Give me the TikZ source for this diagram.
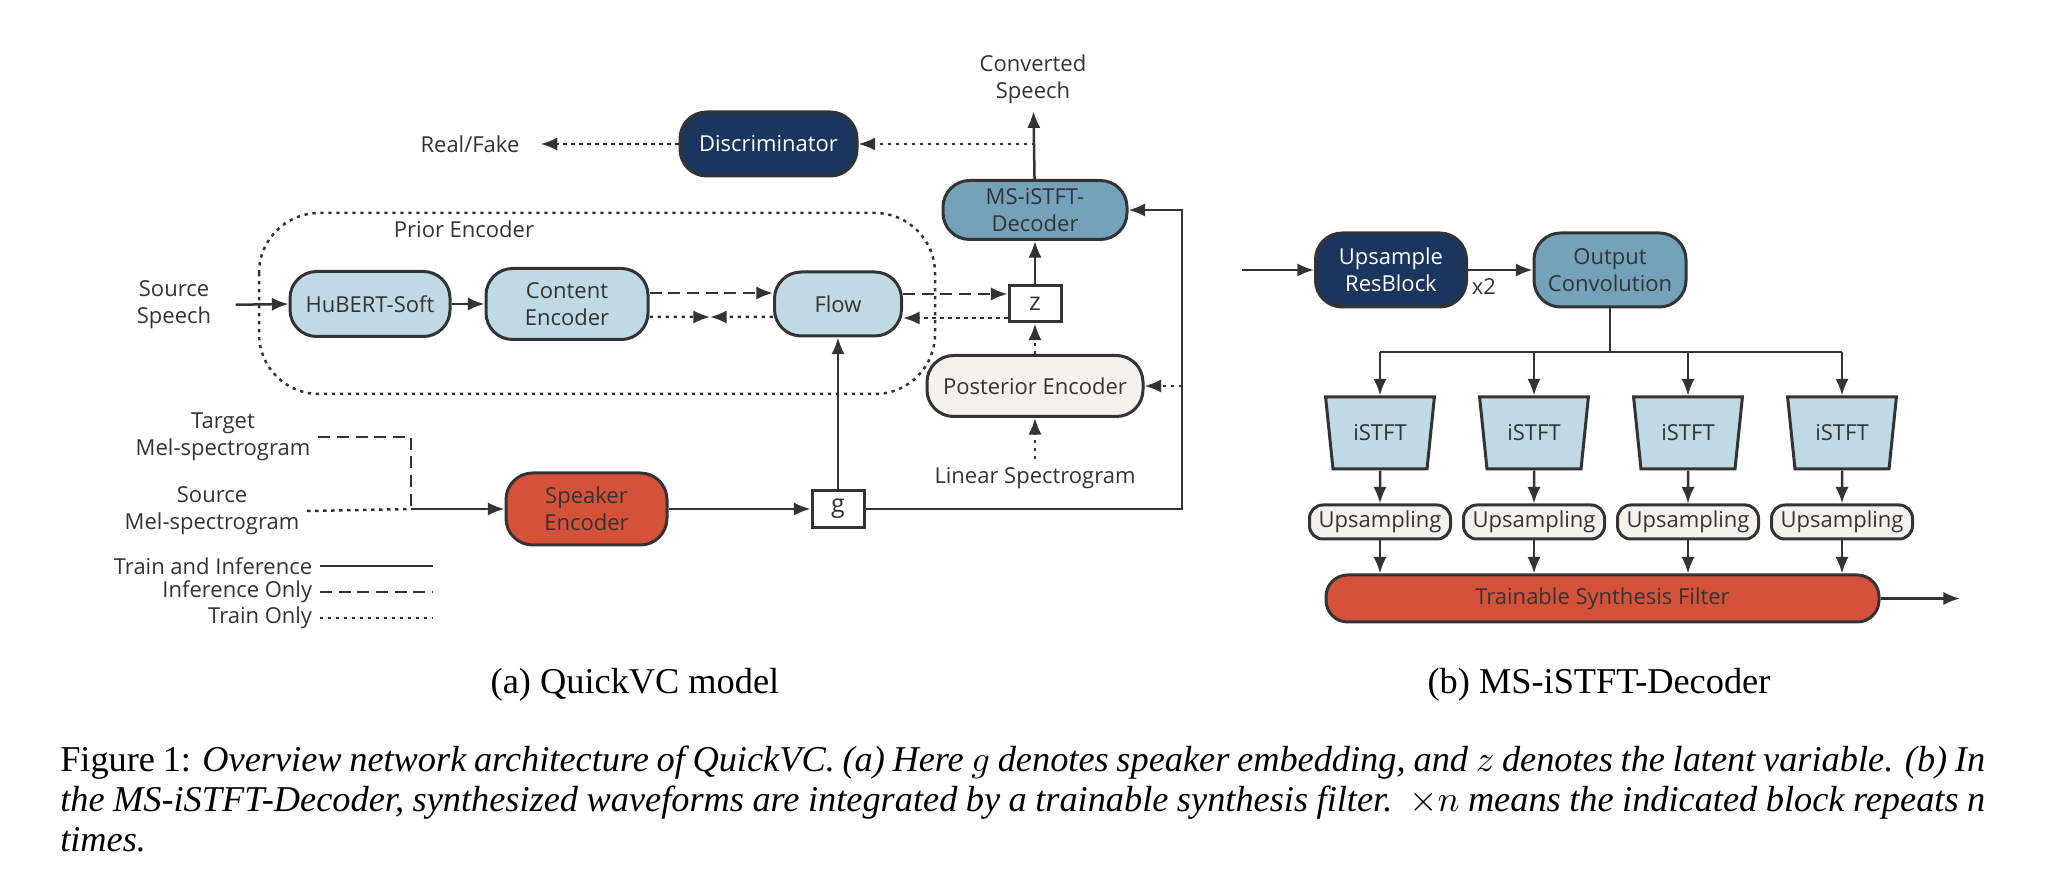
\documentclass[tikz,border=0pt]{standalone}
\usepackage{fontspec}
\setmainfont{Liberation Serif}
\newfontfamily\diagfont{Open Sans}
\usetikzlibrary{arrows.meta,shapes.geometric,calc}
\definecolor{darkline}{RGB}{51,51,51}
\definecolor{navy}{RGB}{26,54,94}
\definecolor{steel}{RGB}{116,162,187}
\definecolor{paleblue}{RGB}{192,218,229}
\definecolor{cream}{RGB}{246,242,235}
\definecolor{brick}{RGB}{214,81,58}
\tikzset{>={Latex[length=5pt,width=4pt]}}
\tikzset{
    dfont/.style={font=\diagfont\fontsize{6.6}{8}\selectfont},
    box/.style={draw, dfont, rounded corners=8pt, line width=0.9pt, align=center, inner sep=1pt},
    navybox/.style={box, fill=navy, text=white},
    steelbox/.style={box, fill=steel},
    bluebox/.style={box, fill=paleblue},
    creambox/.style={box, fill=cream},
    redbox/.style={box, fill=brick},
    var/.style={draw, line width=0.9pt, font=\diagfont\fontsize{7.5}{8}\selectfont, fill=white, minimum width=15.6pt, minimum height=10.8pt, inner sep=0pt},
    istft/.style={trapezium, trapezium left angle=104.4, trapezium right angle=104.4, trapezium stretches=true, draw, line width=0.9pt, fill=paleblue, dfont, minimum width=32.7pt, minimum height=21.6pt, inner sep=0pt},
    lbl/.style={dfont, align=center, inner sep=2pt},
    capt/.style={font=\fontsize{10.9}{12}\selectfont, text=black, inner sep=0pt},
    trainonly/.style={dash pattern=on 1pt off 1.4pt},
    inferonly/.style={dash pattern=on 3.6pt off 2pt}
}

\begin{document}
\begin{tikzpicture}[x=0.3pt, y=-0.3pt, line width=0.75pt, color=darkline]
    \useasboundingbox (0,0) rectangle (2051,884);

    % (a) QuickVC model
    \draw[trainonly, rounded corners=18pt] (259,213) rectangle (935,394);
    \node[lbl] (prior) at (464,229) {Prior Encoder};

    \node[navybox, minimum width=53.1pt, minimum height=19.2pt] (disc) at (768.5,144) {Discriminator};
    \node[steelbox, minimum width=55.2pt, minimum height=17.7pt] (dec) at (1035,210) {MS-iSTFT-\\Decoder};
    \node[var] (z) at (1035,304) {z};
    \node[bluebox, minimum width=48pt, minimum height=19.5pt] (hubert) at (370,304) {HuBERT-Soft};
    \node[bluebox, minimum width=48.6pt, minimum height=21.3pt] (content) at (567,304) {Content\\Encoder};
    \node[bluebox, minimum width=38.1pt, minimum height=19.2pt] (flow) at (838,304) {Flow};
    \node[creambox, minimum width=64.8pt, minimum height=18.3pt] (post) at (1035,386) {Posterior Encoder};
    \node[redbox, minimum width=48.3pt, minimum height=21.6pt] (spk) at (586.5,509) {Speaker\\Encoder};
    \node[var, minimum height=11.1pt] (g) at (838,509) {g};

    \node[lbl] (conv) at (1033,79) {Converted\\Speech};
    \node[lbl] (real) at (470,144) {Real/Fake};
    \node[lbl] (src) at (174,305) {Source\\Speech};
    \node[lbl] (lin) at (1035,478) {Linear Spectrogram};
    \node[lbl] (tgt) at (223,437) {Target\\Mel-spectrogram};
    \node[lbl] (smel) at (212,511) {Source\\Mel-spectrogram};

    \coordinate (kl) at (710,317);
    \coordinate (mix) at (411,509);
    \coordinate (loop) at (1182,210);

    \draw[->] (dec) -- (conv);
    \draw[trainonly,->] (dec.north |- disc.east) -- (disc.east);
    \draw[trainonly,->, shorten >=4pt] (disc) -- (real);
    \draw[->, shorten <=5pt] (src.east) -- (hubert.west);
    \draw[->] (hubert) -- (content);
    \draw[inferonly,->] ([yshift=3.3pt]content.east) -- ([yshift=3.3pt]flow.west);
    \draw[trainonly,->] ([yshift=-3.9pt]content.east) -- (kl);
    \draw[trainonly,->] ([yshift=-3.9pt]flow.west) -- (kl);
    \draw[inferonly,->] ([yshift=3pt]flow.east) -- ([yshift=3pt]z.west);
    \draw[trainonly,->] ([yshift=-4.2pt]z.west) -- ([yshift=-4.2pt]flow.east);
    \draw[->] (z) -- (dec);
    \draw[trainonly,->] (post) -- (z);
    \draw[trainonly,->] (lin) -- (post);
    \draw[->] (g) -- (flow);
    \draw[->] (g.east) -| (loop) -- (dec.east);
    \draw[trainonly,->] (loop |- post.east) -- (post.east);
    \draw[inferonly] (tgt.east) -| (mix);
    \draw[trainonly] (smel.east) -- (mix);
    \draw[->] (mix) -- (spk.west);
    \draw[->] (spk) -- (g);

    % legend
    \node[lbl, anchor=east] (leg1) at (320,566) {Train and Inference};
    \node[lbl, anchor=east] (leg2) at (320,592) {Inference Only};
    \node[lbl, anchor=east] (leg3) at (320,618) {Train Only};
    \draw (leg1.east) -- ++(113,0);
    \draw[inferonly] (leg2.east) -- ++(113,0);
    \draw[trainonly] (leg3.east) -- ++(113,0);

    % (b) MS-iSTFT-Decoder
    \node[navybox, minimum width=45.3pt, minimum height=22.2pt] (res) at (1391,270) {Upsample\\ResBlock};
    \node[steelbox, minimum width=45.6pt, minimum height=22.2pt] (outc) at (1610,270) {Output\\Convolution};
    \node[lbl] (rep) at (1484,287) {x2};
    \node[redbox, rounded corners=6.5pt, minimum width=165.9pt, minimum height=14.1pt] (filt) at (1602.5,598.5) {Trainable Synthesis Filter};
    \coordinate (decin) at (1242,270);
    \coordinate (decout) at (1960,598.5);
    \coordinate (bus) at (1610,352);

    \draw[->] (decin) -- (res);
    \draw[->] (res) -- (outc);
    \draw (outc) -- (bus);
    \foreach \i in {1,...,4} {
        \node[istft] (ist\i) at ({1380+154*(\i-1)},433) {iSTFT};
        \node[creambox, rounded corners=4pt, minimum width=42.3pt, minimum height=10.2pt] (ups\i) at ({1380+154*(\i-1)},522) {Upsampling};
        \draw[->] (ist\i.north |- bus) -- (ist\i.north);
        \draw[->] (ist\i) -- (ups\i);
        \draw[->] (ups\i) -- (ups\i |- filt.north);
    }
    \draw (ist1.north |- bus) -- (ist4.north |- bus);
    \draw[->] (filt) -- (decout);

    % captions
    \node[capt, anchor=base] (capa) at (635,694) {(a) QuickVC model};
    \node[capt, anchor=base] (capb) at (1599,694) {(b) MS-iSTFT-Decoder};
    \node[capt, anchor=north west, text width=577.5pt, align=justify] (fig) at (59,745) {Figure 1: \textit{Overview network architecture of QuickVC. (a) Here $g$ denotes speaker embedding, and $z$ denotes the latent variable. (b) In\linebreak the MS-iSTFT-Decoder, synthesized waveforms are integrated by a trainable synthesis filter.\ \ $\times n$ means the indicated block repeats n\linebreak times.}};
\end{tikzpicture}
\end{document}
